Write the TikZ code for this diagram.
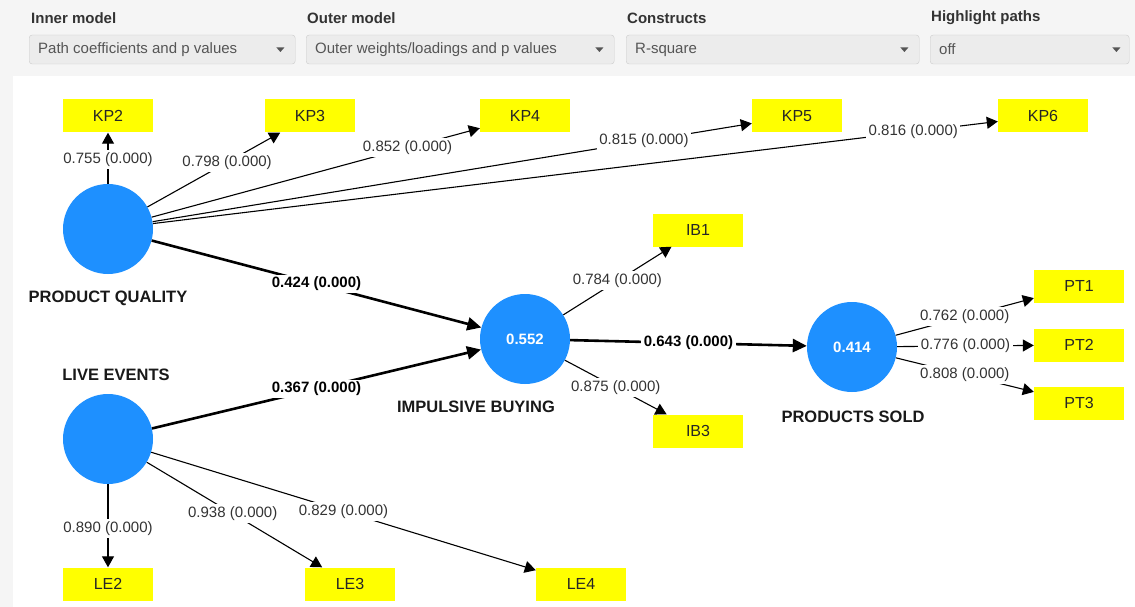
\documentclass[tikz,border=0pt]{standalone}
\usepackage{fontspec}
\setmainfont{Liberation Sans}
\usepackage{xcolor}
\usepackage{tikz}
\usetikzlibrary{arrows.meta}
\definecolor{plsblue}{RGB}{30,144,255}
\definecolor{plsyellow}{RGB}{255,255,0}
\definecolor{panelgray}{RGB}{245,245,245}
\definecolor{selgray}{RGB}{236,236,236}
\definecolor{selborder}{RGB}{204,204,204}
\definecolor{txtgray}{RGB}{85,85,85}
\definecolor{lbldark}{RGB}{51,51,51}

\begin{document}
\begin{tikzpicture}[
  x=1pt, y=-1pt,
  font=\fontsize{15}{18}\selectfont,
  lv/.style={circle, fill=plsblue, minimum size=90pt, inner sep=0pt, text=white, font=\fontsize{15}{18}\selectfont\bfseries},
  ind/.style={rectangle, fill=plsyellow, minimum width=90pt, minimum height=33pt, inner sep=0pt, text=black!85, font=\fontsize{16}{19}\selectfont},
  cname/.style={inner sep=0pt, text=black!90, font=\fontsize{16.5}{19}\selectfont\bfseries},
  ld/.style={-{Triangle[length=11pt, width=12pt]}, line width=1.1pt},
  pc/.style={-{Triangle[length=14pt, width=13pt]}, line width=2.6pt},
  lbl/.style={fill=white, inner sep=2.5pt, text=lbldark},
  plbl/.style={lbl, text=black, font=\fontsize{15}{18}\selectfont\bfseries},
  hdr/.style={anchor=west, inner sep=0pt, text=black!80, font=\fontsize{15}{18}\selectfont\bfseries},
  sel/.style={draw=selborder, fill=selgray, rounded corners=3pt, minimum height=29pt, inner sep=0pt, anchor=west, minimum width=#1},
  seltxt/.style={anchor=west, inner sep=0pt, text=txtgray},
  caret/.style={fill=txtgray},
]
\useasboundingbox (0,0) rectangle (1135,607);
\fill[panelgray] (0,0) rectangle (1135,607);
\fill[white] (13,76) rectangle (1135,607);
% ================= SETTINGS BAR =================
\node[hdr] (h1) at (31,18) {Inner model};
\node[hdr] (h2) at (307,18) {Outer model};
\node[hdr] (h3) at (627,18) {Constructs};
\node[hdr] (h4) at (931,18) {Highlight paths};
\node[sel=266pt] (s1) at (29,49.5) {};
\node[sel=308pt] (s2) at (306,49.5) {};
\node[sel=293pt] (s3) at (626,49.5) {};
\node[sel=199pt] (s4) at (930,49.5) {};
\node[seltxt] (t1) at ([xshift=9pt]s1.west) {Path coefficients and p values};
\node[seltxt] (t2) at ([xshift=9pt]s2.west) {Outer weights/loadings and p values};
\node[seltxt] (t3) at ([xshift=9pt]s3.west) {R-square};
\node[seltxt] (t4) at ([xshift=9pt]s4.west) {off};
\fill[caret] ([xshift=-19pt, yshift=2pt]s1.east) -- ++(8,0) -- ++(-4,4.5) -- cycle;
\fill[caret] ([xshift=-19pt, yshift=2pt]s2.east) -- ++(8,0) -- ++(-4,4.5) -- cycle;
\fill[caret] ([xshift=-19pt, yshift=2pt]s3.east) -- ++(8,0) -- ++(-4,4.5) -- cycle;
\fill[caret] ([xshift=-17pt, yshift=2pt]s4.east) -- ++(8,0) -- ++(-4,4.5) -- cycle;
% ================= CONSTRUCTS =================
\node[lv] (pq) at (108,229) {};
\node[lv] (le) at (108,439) {};
\node[lv] (ib) at (525,339) {0.552};
\node[lv] (ps) at (852,347) {0.414};
\node[cname] (pqt) at (108,298) {PRODUCT QUALITY};
\node[cname] (let) at (116,375) {LIVE EVENTS};
\node[cname] (ibt) at (476,407) {IMPULSIVE BUYING};
\node[cname] (pst) at (853,417) {PRODUCTS SOLD};
% ================= INDICATORS =================
\node[ind] (kp2) at (108,116) {KP2};
\node[ind] (kp3) at (310,116) {KP3};
\node[ind] (kp4) at (525,116) {KP4};
\node[ind] (kp5) at (797,116) {KP5};
\node[ind] (kp6) at (1043,116) {KP6};
\node[ind] (ib1) at (698,230) {IB1};
\node[ind] (ib3) at (698,431) {IB3};
\node[ind] (pt1) at (1079,286) {PT1};
\node[ind] (pt2) at (1079,345) {PT2};
\node[ind] (pt3) at (1079,403) {PT3};
\node[ind] (le2) at (108,584) {LE2};
\node[ind] (le3) at (350,584) {LE3};
\node[ind] (le4) at (581,584) {LE4};
% outer loadings
\draw[ld] (pq) -- node[lbl, pos=0.48]{0.755 (0.000)} (kp2);
\draw[ld] (pq) -- node[lbl, pos=0.60]{0.798 (0.000)} (kp3);
\draw[ld] (pq) -- node[lbl, pos=0.78]{0.852 (0.000)} (kp4);
\draw[ld] (pq) -- node[lbl, pos=0.82]{0.815 (0.000)} (kp5);
\draw[ld] (pq) -- node[lbl, pos=0.90]{0.816 (0.000)} (kp6);
\draw[ld] (ib) -- node[lbl, pos=0.50]{0.784 (0.000)} (ib1);
\draw[ld] (ib) -- node[lbl, pos=0.50]{0.875 (0.000)} (ib3);
\draw[ld] (ps) -- node[lbl, pos=0.50]{0.762 (0.000)} (pt1);
\draw[ld] (ps) -- node[lbl, pos=0.50]{0.776 (0.000)} (pt2);
\draw[ld] (ps) -- node[lbl, pos=0.50]{0.808 (0.000)} (pt3);
\draw[ld] (le) -- node[lbl, pos=0.53]{0.890 (0.000)} (le2);
\draw[ld] (le) -- node[lbl, pos=0.49]{0.938 (0.000)} (le3);
\draw[ld] (le) -- node[lbl, pos=0.50]{0.829 (0.000)} (le4);
% inner model paths
\draw[pc] (pq) -- node[plbl]{0.424 (0.000)} (ib);
\draw[pc] (le) -- node[plbl]{0.367 (0.000)} (ib);
\draw[pc] (ib) -- node[plbl]{0.643 (0.000)} (ps);
\end{tikzpicture}
\end{document}
